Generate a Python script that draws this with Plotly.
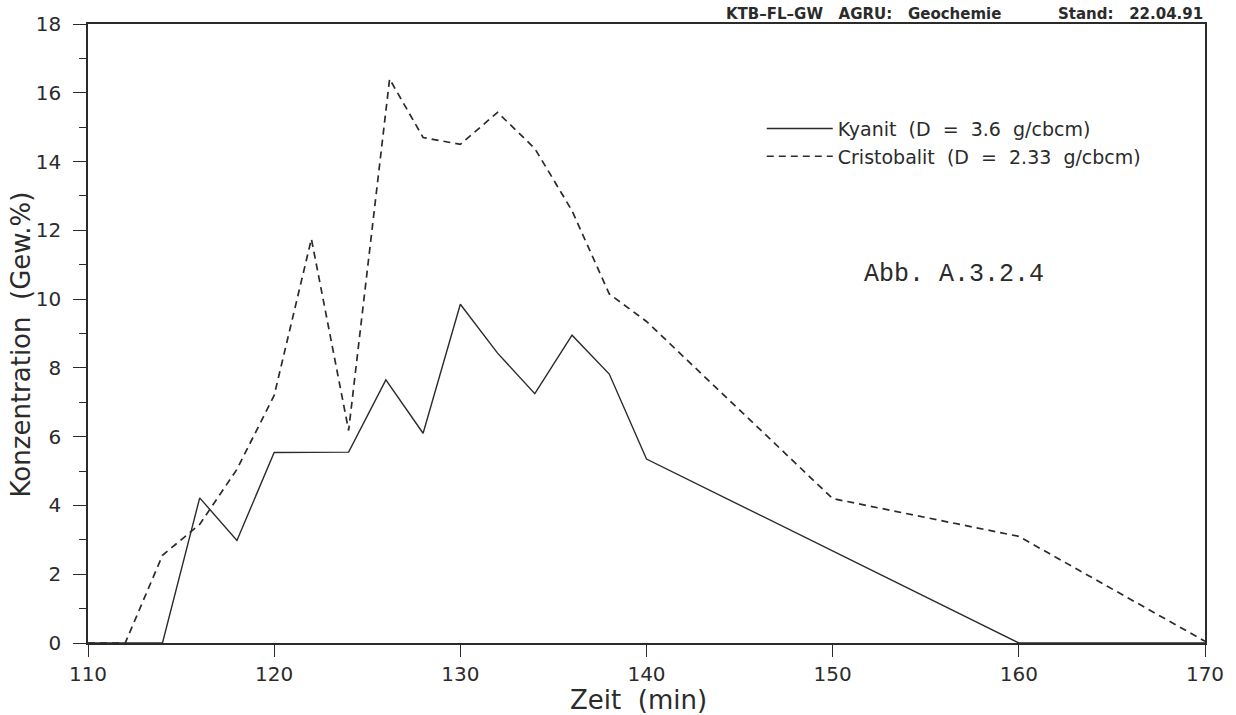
import plotly.graph_objects as go

# Data
zeit_kyanit = [110, 114, 116, 118, 120, 122, 124, 126, 128, 130, 132, 134, 136, 138, 140, 160, 170]
kyanit = [0, 0, 4.22, 2.98, 5.54, 5.54, 5.55, 7.65, 6.1, 9.85, 8.43, 7.25, 8.95, 7.82, 5.35, 0, 0]

zeit_cristo = [110, 112, 114, 116, 118, 120, 122, 124, 126.2, 128, 130, 132, 134, 136, 138, 140, 150, 160, 170]
cristobalit = [0, 0, 2.55, 3.45, 5.05, 7.2, 11.75, 6.18, 16.4, 14.7, 14.5, 15.43, 14.38, 12.57, 10.15, 9.35, 4.2, 3.1, 0.05]

x_ticks = [110, 120, 130, 140, 150, 160, 170]
y_ticks = [0, 2, 4, 6, 8, 10, 12, 14, 16, 18]

FONT = "DejaVu Sans"
INK = "#2b2b2b"

fig = go.Figure()
fig.add_trace(go.Scatter(
    x=zeit_kyanit, y=kyanit, mode="lines",
    name="Kyanit  (D  =  3.6  g/cbcm)",
    line=dict(color=INK, width=1.4),
))
fig.add_trace(go.Scatter(
    x=zeit_cristo, y=cristobalit, mode="lines",
    name="Cristobalit  (D  =  2.33  g/cbcm)",
    line=dict(color=INK, width=1.7, dash="7px,5px"),
))

fig.update_layout(
    width=1236, height=715,
    margin=dict(l=88, r=24, t=22, b=72),
    paper_bgcolor="white", plot_bgcolor="white",
    font=dict(family=FONT, color=INK),
    showlegend=True,
    legend=dict(
        x=(766 - 88) / 1124, y=(643 - 108) / 621, xanchor="left", yanchor="top",
        bgcolor="rgba(0,0,0,0)", font=dict(size=19, family=FONT, color=INK),
        tracegroupgap=0, itemwidth=66,
    ),
    xaxis=dict(
        range=[110, 170], tickvals=x_ticks, ticktext=[str(v) for v in x_ticks],
        showgrid=False, zeroline=False,
        showline=True, linecolor=INK, linewidth=1.6, mirror=True,
        ticks="outside", ticklen=12, tickwidth=1.4, tickcolor=INK,
        tickfont=dict(size=20, family=FONT, color=INK),
    ),
    yaxis=dict(
        range=[0, 18], tickvals=y_ticks, ticktext=[str(v) for v in y_ticks],
        showgrid=False, zeroline=False,
        showline=True, linecolor=INK, linewidth=1.6, mirror=True,
        ticks="outside", ticklen=13, tickwidth=1.4, tickcolor=INK,
        ticklabelstandoff=8,
        tickfont=dict(size=20, family=FONT, color=INK),
        minor=dict(dtick=1, ticks="outside", ticklen=7, tickwidth=1.2, tickcolor=INK, showgrid=False),
    ),
    annotations=[
        dict(text="Konzentration  (Gew.%)", xref="paper", yref="paper",
             x=-(88 - 21) / 1124, y=(643 - 343) / 621, xanchor="center", yanchor="middle",
             textangle=-90, showarrow=False, font=dict(size=26, family=FONT, color=INK)),
        dict(text="Zeit  (min)", xref="paper", yref="paper",
             x=(642 - 88) / 1124, y=-(700 - 643) / 621, xanchor="center", yanchor="middle",
             showarrow=False, font=dict(size=26, family=FONT, color=INK)),
        dict(text="Abb. A.3.2.4", xref="paper", yref="paper",
             x=(867 - 88) / 1124, y=(643 - 273) / 621, xanchor="left", yanchor="middle",
             showarrow=False, font=dict(size=25, family="Liberation Mono", color=INK)),
        dict(text="<b>KTB\u2013FL\u2013GW   AGRU:   Geochemie</b>", xref="paper", yref="paper",
             x=(728 - 88) / 1124, y=1.0, xanchor="left", yanchor="bottom", yshift=-1,
             showarrow=False, font=dict(size=15, family=FONT, color=INK)),
        dict(text="<b>Stand:   22.04.91</b>", xref="paper", yref="paper",
             x=1.0, y=1.0, xanchor="right", yanchor="bottom", yshift=-1,
             showarrow=False, font=dict(size=15, family=FONT, color=INK)),
    ],
)

fig.write_html("out.html")
